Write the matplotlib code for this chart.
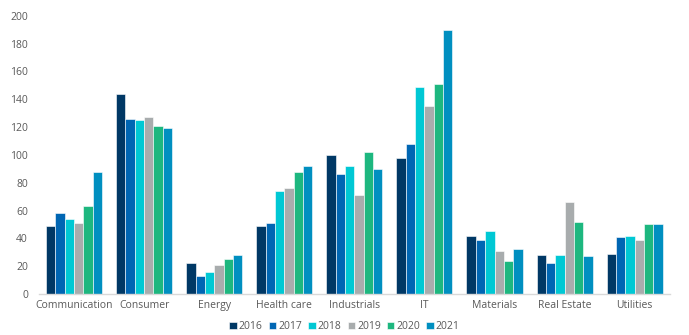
import matplotlib
matplotlib.use("Agg")
import matplotlib.pyplot as plt
import numpy as np

plt.rcParams["font.family"] = ["Open Sans", "DejaVu Sans"]

sectors = ["Communication", "Consumer", "Energy", "Health care", "Industrials",
           "IT", "Materials", "Real Estate", "Utilities"]
years = ["2016", "2017", "2018", "2019", "2020", "2021"]

v2016 = [49, 144, 22, 49, 100, 98, 42, 28, 29]
v2017 = [58, 126, 13, 51, 86, 108, 39, 22, 41]
v2018 = [54, 125, 16, 74, 92, 149, 45, 28, 42]
v2019 = [51, 127, 21, 76, 71, 135, 31, 66, 39]
v2020 = [63, 121, 25, 88, 102, 151, 24, 52, 50]
v2021 = [88, 119, 28, 92, 90, 190, 32, 27, 50]
series = [v2016, v2017, v2018, v2019, v2020, v2021]

colors = ["#003865", "#0066b3", "#00c8d4", "#a8acad", "#1db77f", "#008fc0"]
text_col = "#595959"

fig = plt.figure(figsize=(6.89, 3.35), dpi=100)
ax = fig.add_axes([0.0566, 0.1224, 0.9154, 0.8306])

x = np.arange(len(sectors))
n = len(series)
group_w = 0.8
bw = group_w / n
for i, (vals, c, yr) in enumerate(zip(series, colors, years)):
    pos = x - group_w / 2 + bw * (i + 0.5)
    ax.bar(pos, vals, width=bw, color=c, edgecolor="white", linewidth=0.4, label=yr)

ax.set_xlim(-0.5, len(sectors) - 0.5)
ax.set_ylim(0, 200)
ax.set_yticks(range(0, 201, 20))
ax.set_xticks(x)
ax.set_xticklabels(sectors)
ax.tick_params(axis="both", length=0, labelsize=7.5, colors=text_col)
ax.tick_params(axis="y", pad=8)
ax.tick_params(axis="x", pad=4)

for s in ["top", "right", "left"]:
    ax.spines[s].set_visible(False)
ax.spines["bottom"].set_color("#d9d9d9")
ax.spines["bottom"].set_linewidth(1.0)

# legend sits just under the category labels
leg = fig.legend(loc="center", bbox_to_anchor=(0.5, 0.025), ncol=6,
                 frameon=False, fontsize=7.5, handlelength=0.7, handleheight=0.7,
                 handletextpad=0.2, columnspacing=0.6, borderpad=0.1)
for t in leg.get_texts():
    t.set_color(text_col)

fig.savefig("out.png", dpi=100)
